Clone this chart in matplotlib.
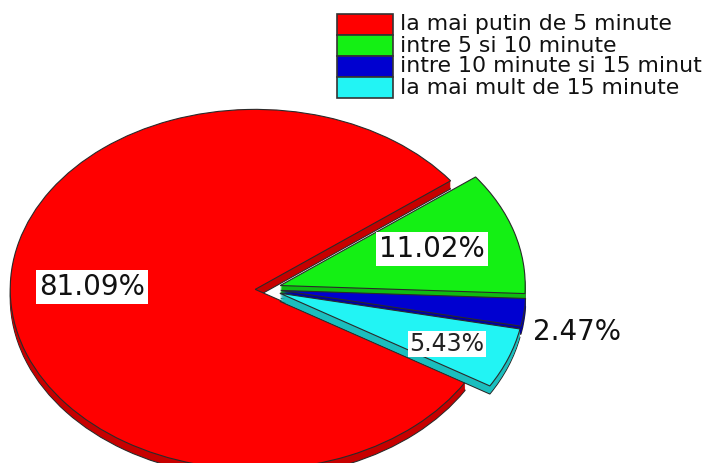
import matplotlib.pyplot as plt
import matplotlib.colors as mcolors
from matplotlib.patches import Rectangle

# time categories and their shares (percent)
labels = ["la mai putin de 5 minute", "intre 5 si 10 minute",
          "intre 10 minute si 15 minute", "la mai mult de 15 minute"]
values = [81.09, 11.02, 2.47, 5.43]
colors = ["#ff0000", "#14f014", "#0000d0", "#22f4f4"]
explode = [0.04, 0.065, 0.065, 0.065]

W, H = 702, 463
fig = plt.figure(figsize=(W / 100, H / 100), dpi=100)
ax = fig.add_axes([0, 0, 1, 1])

start = -31.0  # red begins just under the horizontal, going clockwise
depth = 0.045
steps = 9

def darker(c, f=0.78):
    r, g, b = mcolors.to_rgb(c)
    return (r * f, g * f, b * f)

# side walls: stacked copies of the pie pushed downwards
for k in range(steps, 0, -1):
    dy = -depth * k / steps
    bottom = (k == steps)
    wedges, _ = ax.pie(values, colors=[darker(c) for c in colors], explode=explode,
                       startangle=start, counterclock=False, center=(0, dy),
                       wedgeprops=dict(linewidth=0.8 if bottom else 0,
                                       edgecolor="#2a2a2a"))
    for i, w in enumerate(wedges):
        w.set_zorder(2 * i + 1)

# top faces
wedges, _ = ax.pie(values, colors=colors, explode=explode, startangle=start,
                   counterclock=False, center=(0, 0),
                   wedgeprops=dict(linewidth=0.8, edgecolor="#2a2a2a"))
for i, w in enumerate(wedges):
    w.set_zorder(2 * i + 2)

# squash the circle into the tilted ellipse
ax.set_aspect("auto")
ax.set_xlim(-265 / 245, (W - 265) / 245)
ax.set_ylim(-(H - 289) / 180, 289 / 180)
ax.axis("off")

def px(x, y):
    return x / W, 1 - y / H

box = dict(facecolor="white", edgecolor="none", pad=2)
pct = [f"{v:.2f}%" for v in values]
ax.text(*px(92, 287), pct[0], transform=ax.transAxes, ha="center", va="center",
        fontsize=20, color="#111111", bbox=box, zorder=20)
ax.text(*px(432, 249), pct[1], transform=ax.transAxes, ha="center", va="center",
        fontsize=20, color="#111111", bbox=box, zorder=20)
ax.text(*px(577, 332), pct[2], transform=ax.transAxes, ha="center", va="center",
        fontsize=20, color="#111111", zorder=20)
ax.text(*px(447, 344), pct[3], transform=ax.transAxes, ha="center", va="center",
        fontsize=17, color="#222222", bbox=dict(facecolor="white", edgecolor="none", pad=1), zorder=20)

# legend, top right (last letters of the long label run off the edge)
for i, (lab, c) in enumerate(zip(labels, colors)):
    y0 = 14 + i * 21
    fig.add_artist(Rectangle((337 / W, 1 - (y0 + 21) / H), 56 / W, 21 / H,
                             transform=fig.transFigure, facecolor=c,
                             edgecolor="#333333", linewidth=1.2))
    fig.text(400 / W, 1 - (y0 + 10.5) / H, lab, ha="left", va="center",
             fontsize=15.8, color="#111111")

fig.savefig("out.png", dpi=100)
